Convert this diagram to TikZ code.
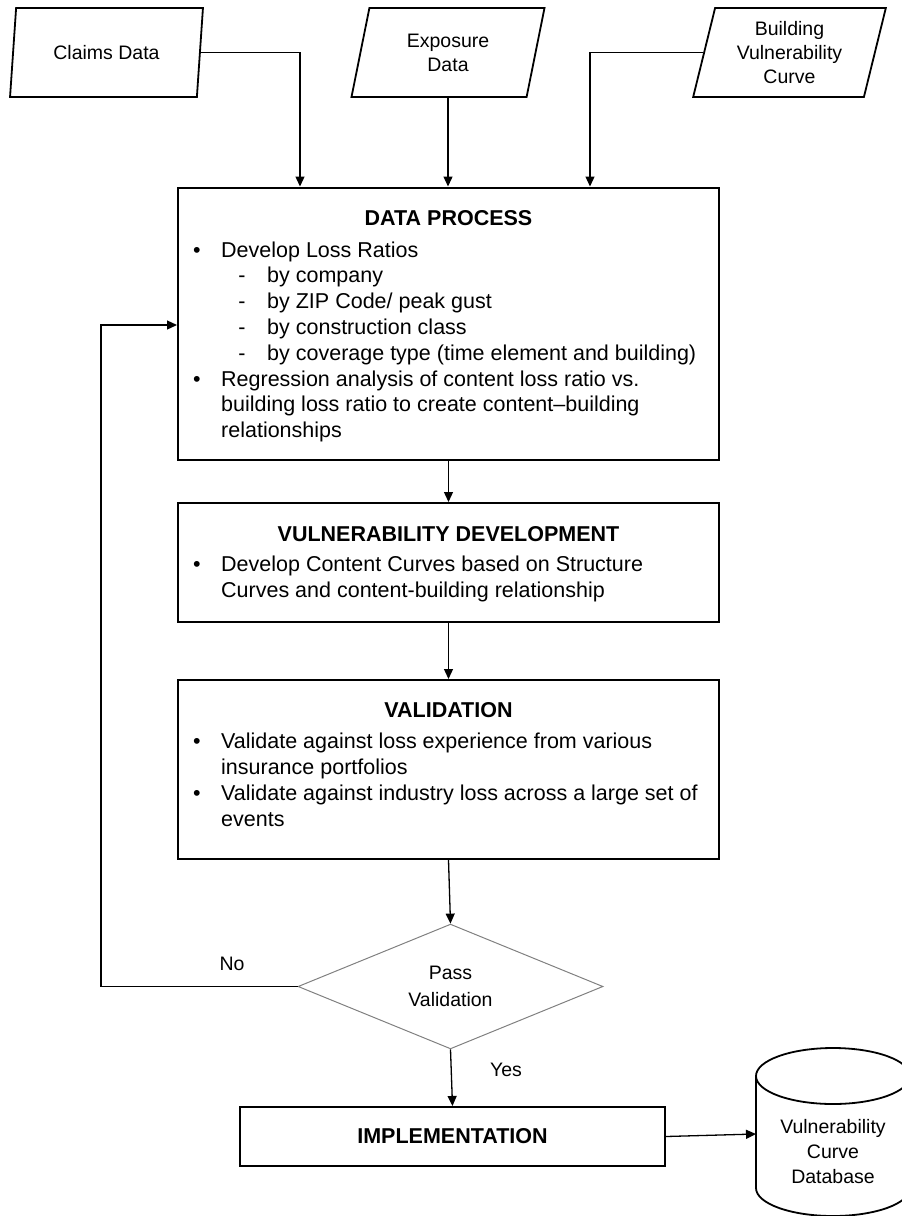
\documentclass[tikz,border=0pt]{standalone}
\usepackage{fontspec}
\setmainfont{Liberation Sans}
\usetikzlibrary{shapes.geometric,arrows.meta}

\newcommand\bodyfont{\fontsize{21.5pt}{25.8pt}\selectfont}
\newcommand\smallfont{\fontsize{19.5pt}{24pt}\selectfont}
\definecolor{diagray}{gray}{0.5}

\begin{document}
\begin{tikzpicture}[x=1pt,y=-1pt,
  box/.style={draw, line width=2pt, rectangle, inner sep=0pt},
  inputbox/.style={draw, line width=1.8pt, trapezium, trapezium left angle=76,
    trapezium right angle=104, trapezium stretches=true,
    minimum width=193pt, minimum height=89pt, inner sep=0pt,
    align=center, font=\smallfont},
  conn/.style={line width=1.3pt, -{Triangle[length=10pt,width=9pt]}},
  boxtitle/.style={anchor=base, inner sep=0pt, font=\bodyfont\bfseries},
  txtline/.style={anchor=base west, inner sep=0pt, font=\bodyfont},
  bul/.style={anchor=base, inner sep=0pt, font=\bodyfont},
  dsh/.style={anchor=base, inner sep=0pt, font=\bodyfont},
  lbl/.style={anchor=base, inner sep=0pt, font=\smallfont}
]
\useasboundingbox (0,0) rectangle (902,1216);

% inputs
\node[inputbox] (claims) at (106.5,52.5) {Claims Data};
\node[inputbox] (expo) at (448,52.5) {Exposure\\Data};
\node[inputbox] (bvc) at (789.5,52.5) {Building\\Vulnerability\\Curve};

% process boxes
\node[box, minimum width=541pt, minimum height=272pt] (dp) at (448.5,323.5) {};
\node[box, minimum width=541pt, minimum height=119pt] (vd) at (448.5,562.5) {};
\node[box, minimum width=541pt, minimum height=179pt] (val) at (448.5,769.5) {};
\node[draw=diagray, line width=1pt, diamond, minimum width=305pt,
  minimum height=119pt, inner sep=0pt, align=center,
  font=\fontsize{19.5pt}{27pt}\selectfont] (dia) at (450.5,986.5) {Pass\\Validation};
\node[box, minimum width=425pt, minimum height=59pt, font=\bodyfont\bfseries]
  (impl) at (452.5,1136.5) {IMPLEMENTATION};

% data process text
\node[boxtitle] (dpT) at (448.5,225) {DATA PROCESS};
\node[bul] (dpb1) at (197,257) {\textbullet};
\node[txtline] (dp1) at (221,257) {Develop Loss Ratios};
\node[dsh] (dpd1) at (242,282.8) {-};
\node[txtline] (dp2) at (267,282.8) {by company};
\node[dsh] (dpd2) at (242,308.6) {-};
\node[txtline] (dp3) at (267,308.6) {by ZIP Code/ peak gust};
\node[dsh] (dpd3) at (242,334.4) {-};
\node[txtline] (dp4) at (267,334.4) {by construction class};
\node[dsh] (dpd4) at (242,360.2) {-};
\node[txtline] (dp5) at (267,360.2) {by coverage type (time element and building)};
\node[bul] (dpb2) at (197,386) {\textbullet};
\node[txtline] (dp6) at (221,386) {Regression analysis of content loss ratio vs.};
\node[txtline] (dp7) at (221,411.8) {building loss ratio to create content–building};
\node[txtline] (dp8) at (221,437.6) {relationships};

% vulnerability development text
\node[boxtitle] (vdT) at (448.5,541) {VULNERABILITY DEVELOPMENT};
\node[bul] (vdb1) at (197,571) {\textbullet};
\node[txtline] (vd1) at (221,571) {Develop Content Curves based on Structure};
\node[txtline] (vd2) at (221,597) {Curves and content-building relationship};

% validation text
\node[boxtitle] (valT) at (448.5,717) {VALIDATION};
\node[bul] (valb1) at (197,748) {\textbullet};
\node[txtline] (val1) at (221,748) {Validate against loss experience from various};
\node[txtline] (val2) at (221,774) {insurance portfolios};
\node[bul] (valb2) at (197,800) {\textbullet};
\node[txtline] (val3) at (221,800) {Validate against industry loss across a large set of};
\node[txtline] (val4) at (221,826) {events};

% database cylinder
\begin{scope}
  \clip (0,0) rectangle (902,1216);
  \draw[line width=1.8pt] (833,1076) ellipse [x radius=77pt, y radius=28pt];
  \draw[line width=1.8pt] (756,1076) -- (756,1188)
    arc[start angle=180, end angle=360, x radius=77pt, y radius=28pt]
    -- (910,1076);
\end{scope}
\node[align=center, inner sep=0pt, font=\fontsize{19.5pt}{25pt}\selectfont]
  (db) at (833,1152) {Vulnerability\\Curve\\Database};
\coordinate (dbW) at (756,1134);

% labels
\node[lbl] (nolbl) at (232,970) {No};
\node[lbl] (yeslbl) at (506,1076) {Yes};

% connectors
\draw[conn] (claims.right side) -| ([xshift=-148.5pt]dp.north);
\draw[conn] (expo.south) -- (expo.south |- dp.north);
\draw[conn] (bvc.left side) -| ([xshift=141.5pt]dp.north);
\draw[conn] (dp.south) -- (vd.north);
\draw[conn] (vd.south) -- (val.north);
\draw[conn] (val.south) -- (dia.north);
\draw[conn] (dia.south) -- (impl.north);
\draw[conn] (impl.east) -- (dbW);
\coordinate (loop) at (101,325);
\draw[conn] (dia.west) -| (loop) -- (loop -| dp.west);
\end{tikzpicture}
\end{document}
